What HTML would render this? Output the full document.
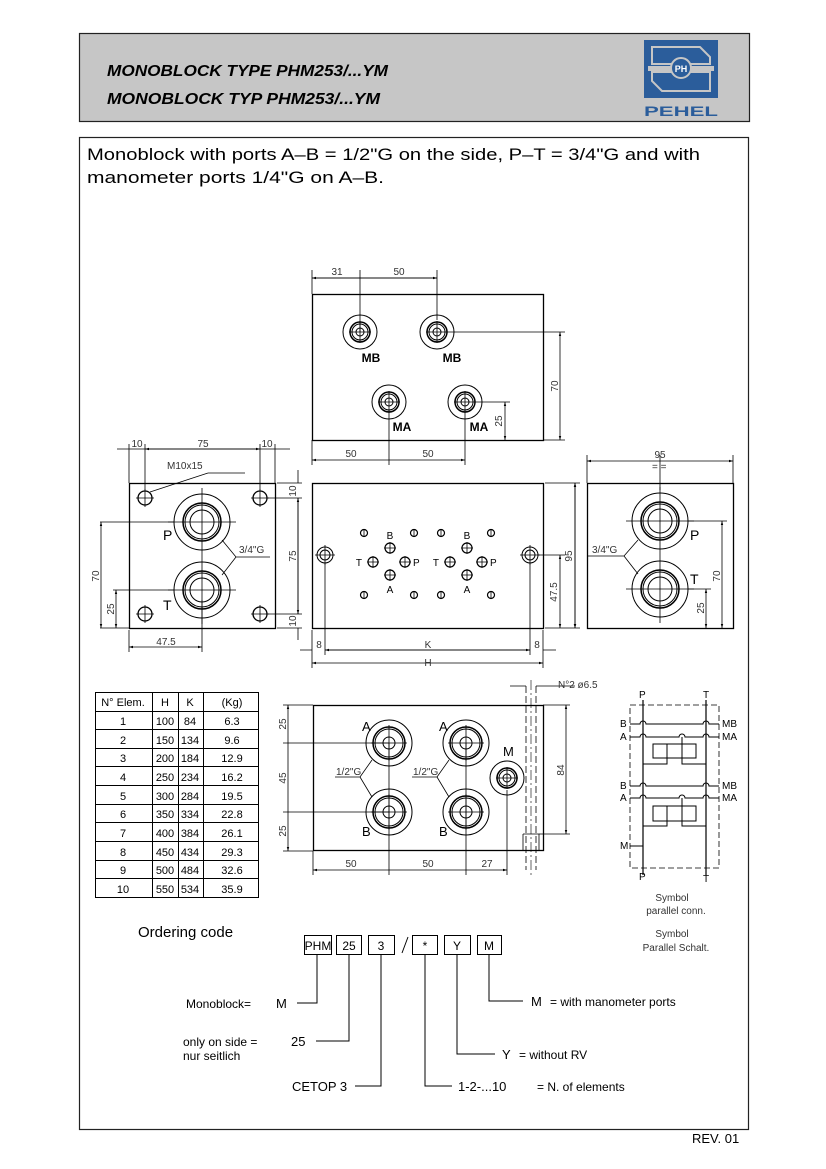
<!DOCTYPE html>
<html><head><meta charset="utf-8"><style>
html,body{margin:0;padding:0;background:#fff;}
svg{display:block;}
text{font-family:"Liberation Sans",sans-serif;fill:#000;}
.t{font-size:10px;fill:#333;}
.l{font-size:12px;}
</style></head><body>
<svg width="826" height="1169" viewBox="0 0 826 1169" xmlns="http://www.w3.org/2000/svg">
<defs>
<marker id="a" viewBox="0 0 10 10" refX="10" refY="5" markerWidth="7" markerHeight="5" orient="auto-start-reverse"><path d="M0,2 L10,5 L0,8z" fill="#000"/></marker>
<g id="pbig"><circle r="28" fill="none" stroke="#000"/><circle r="19" fill="none" stroke="#000" stroke-width="1.5"/><circle r="17" fill="none" stroke="#000"/><circle r="12" fill="none" stroke="#000"/><path d="M-34,0H34M0,-34V34" stroke="#000" stroke-width=".8"/></g>
<g id="pab"><circle r="23" fill="none" stroke="#000"/><circle r="16" fill="none" stroke="#000" stroke-width="1.5"/><circle r="14" fill="none" stroke="#000"/><circle r="6" fill="none" stroke="#000"/><path d="M-18,0H18M0,-18V18" stroke="#000" stroke-width=".8"/></g>
<g id="pm"><circle r="17" fill="none" stroke="#000"/><circle r="10" fill="none" stroke="#000" stroke-width="1.5"/><circle r="8" fill="none" stroke="#000"/><circle r="4" fill="none" stroke="#000"/><path d="M-11,0H11M0,-11V11" stroke="#000" stroke-width=".8"/></g>
<g id="hole"><circle r="7" fill="none" stroke="#000" stroke-width="1.3"/><path d="M-9,0H9M0,-9V9" stroke="#000" stroke-width=".8"/></g>
<g id="sh"><circle r="5" fill="none" stroke="#000" stroke-width="1.2"/><path d="M-6,0H6M0,-6V6" stroke="#000" stroke-width=".8"/></g>
<g id="sm"><circle r="3.5" fill="none" stroke="#000" stroke-width="1.2"/><path d="M0,-4V4" stroke="#000" stroke-width=".8"/></g>
</defs>

<!-- header -->
<rect x="79.5" y="33.5" width="670" height="88" fill="#c6c6c6" stroke="#222" stroke-width="1.2"/>
<text x="107" y="76" font-size="15.5" font-weight="bold" font-style="italic" textLength="281" lengthAdjust="spacingAndGlyphs">MONOBLOCK TYPE PHM253/...YM</text>
<text x="107" y="104" font-size="15.5" font-weight="bold" font-style="italic" textLength="273" lengthAdjust="spacingAndGlyphs">MONOBLOCK TYP PHM253/...YM</text>
<rect x="644" y="40" width="74" height="58" fill="#2b5d9b"/>
<path d="M652,47H700L710,57V64H652Z" fill="none" stroke="#c6c6c6" stroke-width="2"/>
<path d="M652,72H710V91H662L652,81Z" fill="none" stroke="#c6c6c6" stroke-width="2"/>
<rect x="648" y="66" width="66" height="5" fill="#c6c6c6"/>
<circle cx="681" cy="68" r="10" fill="#2b5d9b" stroke="#c6c6c6" stroke-width="2"/>
<text x="681" y="72" font-size="9" font-weight="bold" text-anchor="middle" style="fill:#fff">PH</text>
<text x="681" y="116" font-size="14" font-weight="bold" text-anchor="middle" textLength="74" lengthAdjust="spacingAndGlyphs" style="fill:#2b5d9b">PEHEL</text>

<!-- main box -->
<rect x="79.5" y="137.5" width="669" height="992" fill="none" stroke="#222" stroke-width="1.2"/>
<text x="87" y="160" font-size="17" textLength="613" lengthAdjust="spacingAndGlyphs">Monoblock with ports A–B = 1/2"G on the side, P–T = 3/4"G and with</text>
<text x="87" y="183" font-size="17" textLength="297" lengthAdjust="spacingAndGlyphs">manometer ports  1/4"G on  A–B.</text>

<g stroke="#000" fill="none" stroke-width="1">
<!-- top view -->
<rect x="312.5" y="294.5" width="231" height="146" stroke-width="1.3"/>
</g>
<use href="#pm" x="360" y="332"/><use href="#pm" x="437" y="332"/>
<use href="#pm" x="389" y="402"/><use href="#pm" x="465" y="402"/>
<g stroke="#000" stroke-width=".8" fill="none">
<path d="M312,270V294M360,270V332M437,270V320M312,278H360M360,278H437"/>
<path d="M312,278H360M360,278H437" marker-start="url(#a)" marker-end="url(#a)"/>
<path d="M448,332H565M476,402H510M543,440H565"/>
<path d="M560,332V440" marker-start="url(#a)" marker-end="url(#a)"/>
<path d="M505,402V440" marker-start="url(#a)" marker-end="url(#a)"/>
<path d="M312,440V465M389,410V465M465,410V465"/>
<path d="M312,460H389M389,460H465" marker-start="url(#a)" marker-end="url(#a)"/>
</g>
<text x="371" y="362" class="l" font-weight="bold" text-anchor="middle">MB</text>
<text x="452" y="362" class="l" font-weight="bold" text-anchor="middle">MB</text>
<text x="402" y="431" class="l" font-weight="bold" text-anchor="middle">MA</text>
<text x="479" y="431" class="l" font-weight="bold" text-anchor="middle">MA</text>
<text x="337" y="275" class="t" text-anchor="middle">31</text>
<text x="399" y="275" class="t" text-anchor="middle">50</text>
<text x="351" y="457" class="t" text-anchor="middle">50</text>
<text x="428" y="457" class="t" text-anchor="middle">50</text>
<text class="t" transform="translate(558,386) rotate(-90)" text-anchor="middle">70</text>
<text class="t" transform="translate(502,421) rotate(-90)" text-anchor="middle">25</text>

<!-- left view -->
<rect x="129.5" y="483.5" width="146" height="145" fill="none" stroke="#000" stroke-width="1.3"/>
<use href="#pbig" x="202" y="522"/><use href="#pbig" x="202" y="590"/>
<use href="#hole" x="145" y="498"/><use href="#hole" x="260" y="498"/>
<use href="#hole" x="145" y="614"/><use href="#hole" x="260" y="614"/>
<g stroke="#000" stroke-width=".8" fill="none">
<path d="M129,444V483M145,444V490M260,444V490M275,444V483"/>
<path d="M117,449H129M129,449H145M145,449H260M260,449H275M275,449H290"/>
<path d="M145,449H260" marker-start="url(#a)" marker-end="url(#a)"/>
<path d="M208,473H245M208,473L150,492"/>
<path d="M100,522H174M113,590H174M100,628H129"/>
<path d="M101,522V628" marker-start="url(#a)" marker-end="url(#a)"/>
<path d="M116,590V628" marker-start="url(#a)" marker-end="url(#a)"/>
<path d="M268,498H302M268,614H302M277,483H302M277,628H302"/>
<path d="M298,470V483M298,498V614M298,628V640"/>
<path d="M298,498V614" marker-start="url(#a)" marker-end="url(#a)"/>
<path d="M129,630V652M202,600V652"/>
<path d="M129,647H202" marker-start="url(#a)" marker-end="url(#a)"/>
<path d="M270,557H236L222,540M236,557L222,575"/>
</g>
<text x="137" y="447" class="t" text-anchor="middle">10</text>
<text x="203" y="447" class="t" text-anchor="middle">75</text>
<text x="267" y="447" class="t" text-anchor="middle">10</text>
<text x="167" y="469" class="t">M10x15</text>
<text x="239" y="553" class="t">3/4"G</text>
<text x="163" y="540" font-size="14">P</text>
<text x="163" y="610" font-size="14">T</text>
<text class="t" transform="translate(99,576) rotate(-90)" text-anchor="middle">70</text>
<text class="t" transform="translate(114,609) rotate(-90)" text-anchor="middle">25</text>
<text class="t" transform="translate(296,491) rotate(-90)" text-anchor="middle">10</text>
<text class="t" transform="translate(296,556) rotate(-90)" text-anchor="middle">75</text>
<text class="t" transform="translate(296,621) rotate(-90)" text-anchor="middle">10</text>
<text x="166" y="645" class="t" text-anchor="middle">47.5</text>

<!-- front view -->
<rect x="312.5" y="483.5" width="231" height="145" fill="none" stroke="#000" stroke-width="1.3"/>
<g><circle cx="325" cy="555" r="8" fill="none" stroke="#000"/><circle cx="325" cy="555" r="5" fill="none" stroke="#000"/><path d="M315,555H335M325,545V565" stroke="#000" stroke-width=".8"/></g>
<g><circle cx="530" cy="555" r="8" fill="none" stroke="#000"/><circle cx="530" cy="555" r="5" fill="none" stroke="#000"/><path d="M520,555H540M530,545V565" stroke="#000" stroke-width=".8"/></g>
<use href="#sh" x="390" y="548"/><use href="#sh" x="390" y="575"/><use href="#sh" x="373" y="562"/><use href="#sh" x="405" y="562"/>
<use href="#sh" x="467" y="548"/><use href="#sh" x="467" y="575"/><use href="#sh" x="450" y="562"/><use href="#sh" x="482" y="562"/>
<use href="#sm" x="364" y="533"/><use href="#sm" x="414" y="533"/><use href="#sm" x="364" y="595"/><use href="#sm" x="414" y="595"/>
<use href="#sm" x="441" y="533"/><use href="#sm" x="491" y="533"/><use href="#sm" x="441" y="595"/><use href="#sm" x="491" y="595"/>
<g class="t" font-size="10">
<text x="390" y="539" text-anchor="middle">B</text><text x="390" y="593" text-anchor="middle">A</text>
<text x="362" y="566" text-anchor="end">T</text><text x="413" y="566">P</text>
<text x="467" y="539" text-anchor="middle">B</text><text x="467" y="593" text-anchor="middle">A</text>
<text x="439" y="566" text-anchor="end">T</text><text x="490" y="566">P</text>
</g>
<g stroke="#000" stroke-width=".8" fill="none">
<path d="M312,630V668M543,630V668M325,563V655M530,563V655"/>
<path d="M300,650H312M325,650H530M543,650H556"/>
<path d="M325,650H530" marker-start="url(#a)" marker-end="url(#a)"/>
<path d="M312,663H543" marker-start="url(#a)" marker-end="url(#a)"/>
<path d="M538,555H565M545,483H580M545,628H580"/>
<path d="M560,555V628" marker-start="url(#a)" marker-end="url(#a)"/>
<path d="M575,483V628" marker-start="url(#a)" marker-end="url(#a)"/>
</g>
<text x="319" y="648" class="t" text-anchor="middle">8</text>
<text x="537" y="648" class="t" text-anchor="middle">8</text>
<text x="428" y="648" class="t" text-anchor="middle">K</text>
<text x="428" y="666" class="t" text-anchor="middle">H</text>
<text class="t" transform="translate(572,556) rotate(-90)" text-anchor="middle">95</text>
<text class="t" transform="translate(557,592) rotate(-90)" text-anchor="middle">47.5</text>

<!-- right view -->
<rect x="587.5" y="483.5" width="146" height="145" fill="none" stroke="#000" stroke-width="1.3"/>
<use href="#pbig" x="660" y="521"/><use href="#pbig" x="660" y="589"/>
<g stroke="#000" stroke-width=".8" fill="none">
<path d="M587,455V483M733,455V483M660,455V490"/>
<path d="M587,461H733" marker-start="url(#a)" marker-end="url(#a)"/>
<path d="M575,483V628" marker-start="url(#a)" marker-end="url(#a)"/>
<path d="M688,521H727M688,589H711"/>
<path d="M722,521V628" marker-start="url(#a)" marker-end="url(#a)"/>
<path d="M706,589V628" marker-start="url(#a)" marker-end="url(#a)"/>
<path d="M587,556H624L638,540M624,556L638,574"/>
</g>
<text x="660" y="458" class="t" text-anchor="middle">95</text>
<text x="652" y="470" class="t">= =</text>
<text x="592" y="553" class="t">3/4"G</text>
<text x="690" y="540" font-size="14">P</text>
<text x="690" y="584" font-size="14">T</text>
<text class="t" transform="translate(720,576) rotate(-90)" text-anchor="middle">70</text>
<text class="t" transform="translate(704,608) rotate(-90)" text-anchor="middle">25</text>

<!-- table -->
<g stroke="#000" stroke-width="1" fill="none">
<rect x="95.5" y="692.5" width="163" height="205"/>
<path d="M152.5,692V897M178.5,692V897M203.5,692V897"/>
<path d="M95,711.5H258M95,729.5H258M95,748.5H258M95,766.5H258M95,785.5H258M95,804.5H258M95,822.5H258M95,841.5H258M95,860.5H258M95,878.5H258"/>
</g>
<g font-size="11" text-anchor="middle">
<text x="123" y="706">N° Elem.</text><text x="165" y="706">H</text><text x="190" y="706">K</text><text x="232" y="706">(Kg)</text>
<text x="123" y="725">1</text><text x="165" y="725">100</text><text x="190" y="725">84</text><text x="232" y="725">6.3</text>
<text x="123" y="744">2</text><text x="165" y="744">150</text><text x="190" y="744">134</text><text x="232" y="744">9.6</text>
<text x="123" y="762">3</text><text x="165" y="762">200</text><text x="190" y="762">184</text><text x="232" y="762">12.9</text>
<text x="123" y="781">4</text><text x="165" y="781">250</text><text x="190" y="781">234</text><text x="232" y="781">16.2</text>
<text x="123" y="800">5</text><text x="165" y="800">300</text><text x="190" y="800">284</text><text x="232" y="800">19.5</text>
<text x="123" y="818">6</text><text x="165" y="818">350</text><text x="190" y="818">334</text><text x="232" y="818">22.8</text>
<text x="123" y="837">7</text><text x="165" y="837">400</text><text x="190" y="837">384</text><text x="232" y="837">26.1</text>
<text x="123" y="856">8</text><text x="165" y="856">450</text><text x="190" y="856">434</text><text x="232" y="856">29.3</text>
<text x="123" y="874">9</text><text x="165" y="874">500</text><text x="190" y="874">484</text><text x="232" y="874">32.6</text>
<text x="123" y="893">10</text><text x="165" y="893">550</text><text x="190" y="893">534</text><text x="232" y="893">35.9</text>
</g>

<!-- bottom view -->
<rect x="313.5" y="705.5" width="230" height="145" fill="none" stroke="#000" stroke-width="1.3"/>
<use href="#pab" x="389" y="743"/><use href="#pab" x="466" y="743"/>
<use href="#pab" x="389" y="812"/><use href="#pab" x="466" y="812"/>
<use href="#pm" x="507" y="778"/>
<g stroke="#000" stroke-width=".8" fill="none">
<path d="M526,686V870M536,686V870" stroke-dasharray="7,3"/>
<path d="M531,680V875" stroke-dasharray="10,3,2,3" stroke-width=".6"/>
<path d="M523,834H539V851M523,834V851"/>
<path d="M510,686H526M536,686H545M545,686H575"/>
<path d="M283,705H313M283,743H389M283,812H389M283,851H313"/>
<path d="M288,705V743M288,743V812M288,812V851" marker-start="url(#a)" marker-end="url(#a)"/>
<path d="M543,705H570M539,834H570"/>
<path d="M566,705V834" marker-start="url(#a)" marker-end="url(#a)"/>
<path d="M313,851V875M389,743V875M466,743V875M507,790V875"/>
<path d="M313,870H389M389,870H466M466,870H507" marker-start="url(#a)" marker-end="url(#a)"/>
<path d="M335,777H360L372,760M360,777L372,797M412,777H437L449,760M437,777L449,797"/>
</g>
<text x="362" y="731" font-size="13">A</text><text x="439" y="731" font-size="13">A</text>
<text x="362" y="836" font-size="13">B</text><text x="439" y="836" font-size="13">B</text>
<text x="503" y="756" font-size="13">M</text>
<text x="336" y="775" class="t">1/2"G</text><text x="413" y="775" class="t">1/2"G</text>
<text x="558" y="688" class="t">N°2 ø6.5</text>
<text class="t" transform="translate(286,724) rotate(-90)" text-anchor="middle">25</text>
<text class="t" transform="translate(286,778) rotate(-90)" text-anchor="middle">45</text>
<text class="t" transform="translate(286,831) rotate(-90)" text-anchor="middle">25</text>
<text class="t" transform="translate(564,770) rotate(-90)" text-anchor="middle">84</text>
<text x="351" y="867" class="t" text-anchor="middle">50</text>
<text x="428" y="867" class="t" text-anchor="middle">50</text>
<text x="487" y="867" class="t" text-anchor="middle">27</text>

<!-- symbol -->
<g stroke="#000" fill="none" stroke-width="1">
<rect x="630" y="705" width="89" height="163" stroke-dasharray="6,3" stroke-width=".8"/>
<path d="M643,700V875M706,700V875" stroke-width="1.2"/>
<path d="M630,724H640a3,3 0 0 1 6,0H703a3,3 0 0 1 6,0H719"/>
<path d="M630,737H640a3,3 0 0 1 6,0H679a3,3 0 0 1 6,0H703a3,3 0 0 1 6,0H719"/>
<path d="M682,737V744"/>
<rect x="653" y="744" width="43" height="14"/><path d="M667,744V758M682,744V758"/>
<path d="M643,764H667V758M682,758V764H706"/>
<path d="M630,786H640a3,3 0 0 1 6,0H703a3,3 0 0 1 6,0H719"/>
<path d="M630,798H640a3,3 0 0 1 6,0H679a3,3 0 0 1 6,0H703a3,3 0 0 1 6,0H719"/>
<path d="M682,798V806"/>
<rect x="653" y="806" width="43" height="15"/><path d="M667,806V821M682,806V821"/>
<path d="M643,826H667V821M682,821V826H706"/>
<path d="M630,846H643"/>
</g>
<g class="t" font-size="9">
<text x="639" y="698">P</text><text x="703" y="698">T</text>
<text x="620" y="727">B</text><text x="620" y="740">A</text>
<text x="620" y="789">B</text><text x="620" y="801">A</text>
<text x="620" y="849">M</text>
<text x="722" y="727">MB</text><text x="722" y="740">MA</text>
<text x="722" y="789">MB</text><text x="722" y="801">MA</text>
<text x="639" y="880">P</text><text x="703" y="882">T</text>
</g>
<text x="672" y="901" class="t" font-size="11" text-anchor="middle">Symbol</text>
<text x="676" y="914" class="t" font-size="11" text-anchor="middle">parallel conn.</text>
<text x="672" y="937" class="t" font-size="11" text-anchor="middle">Symbol</text>
<text x="676" y="951" class="t" font-size="11" text-anchor="middle">Parallel Schalt.</text>

<!-- ordering code -->
<text x="138" y="937" font-size="15">Ordering code</text>
<g stroke="#000" fill="none" stroke-width="1">
<rect x="304.5" y="935.5" width="27" height="19"/><rect x="336.5" y="935.5" width="25" height="19"/>
<rect x="368.5" y="935.5" width="26" height="19"/><rect x="412.5" y="935.5" width="25" height="19"/>
<rect x="444.5" y="935.5" width="26" height="19"/><rect x="477.5" y="935.5" width="24" height="19"/>
<path d="M402,953L408,937"/>
<path d="M317,955V1003H297M349,955V1041H316M381,955V1086H355M425,955V1086H452M457,955V1054H495M489,955V1001H523"/>
</g>
<g font-size="12" text-anchor="middle">
<text x="318" y="950" font-family="Liberation Serif">PHM</text><text x="349" y="950">25</text><text x="381" y="950">3</text>
<text x="425" y="950">*</text><text x="457" y="950">Y</text><text x="489" y="950">M</text>
</g>
<text x="186" y="1008" font-size="12" fill="#333">Monoblock=</text><text x="276" y="1008" font-size="13">M</text>
<text x="183" y="1046" font-size="12">only on side =</text><text x="291" y="1046" font-size="13">25</text>
<text x="183" y="1060" font-size="12">nur seitlich</text>
<text x="292" y="1091" font-size="13">CETOP 3</text>
<text x="458" y="1091" font-size="13">1-2-...10</text><text x="537" y="1091" font-size="12">= N. of elements</text>
<text x="502" y="1059" font-size="13">Y</text><text x="519" y="1059" font-size="12">= without RV</text>
<text x="531" y="1006" font-size="13">M</text><text x="550" y="1006" font-size="12">= with manometer ports</text>
<text x="692" y="1143" font-size="13" fill="#333">REV. 01</text>
</svg>
</body></html>
